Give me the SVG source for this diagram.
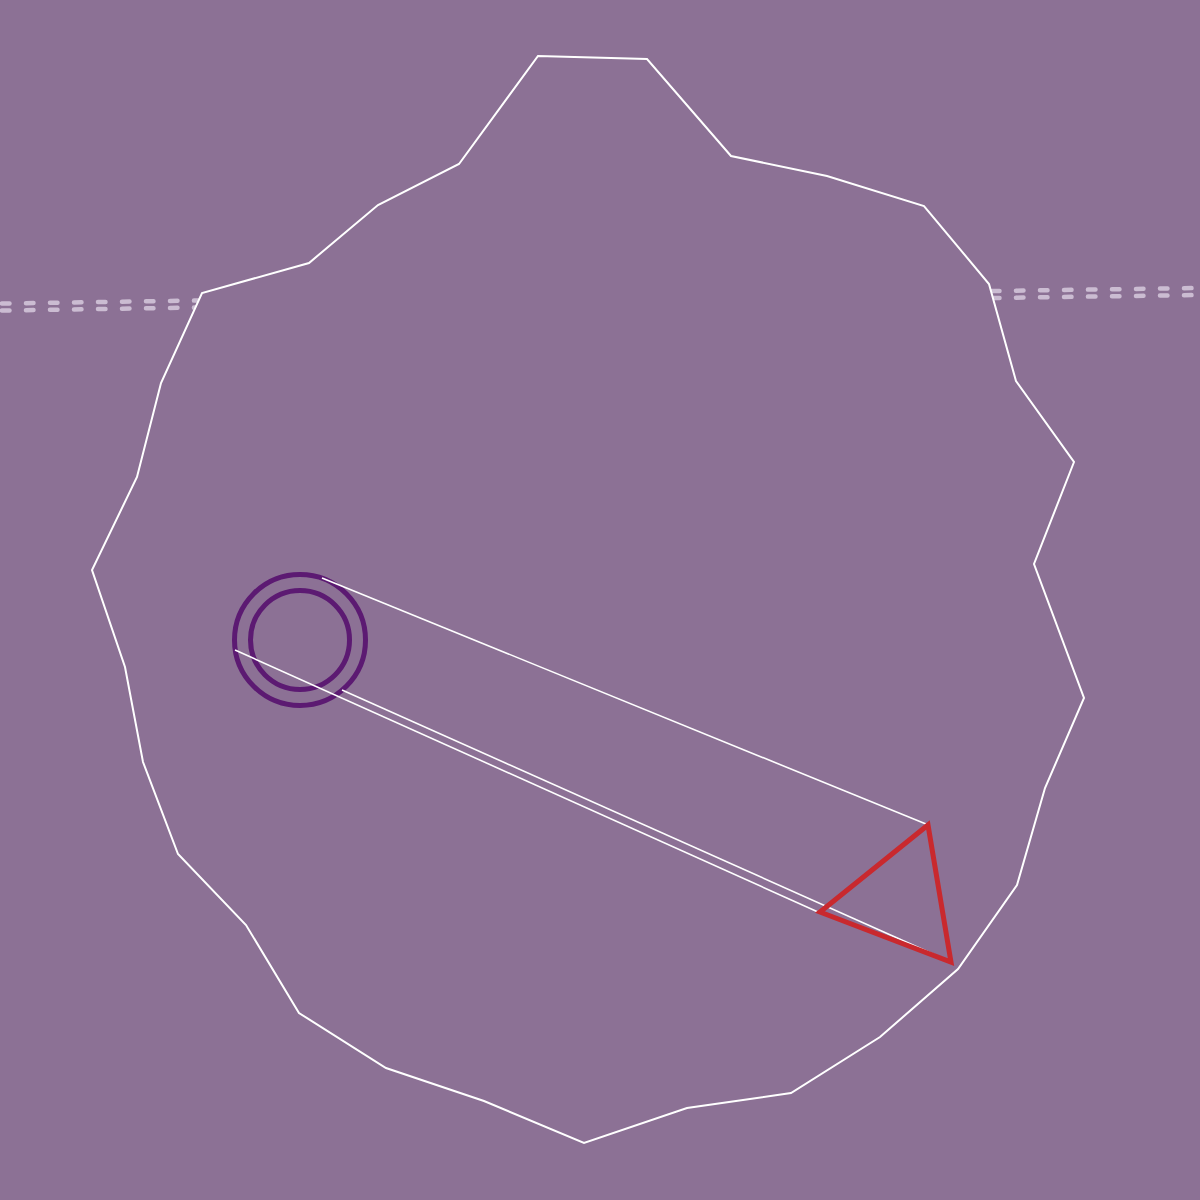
<svg xmlns="http://www.w3.org/2000/svg" width="1200" height="1200" viewBox="0 0 1200 1200">
<style>
.road{fill:none;stroke:#cbbcd2;stroke-width:4.5;stroke-linecap:round;stroke-dasharray:7.5 16.5}
.edge{fill:none;stroke:#ffffff;stroke-width:1.6}
.ring{fill:none;stroke:#5c1a72;stroke-width:5}
</style>
<rect x="0" y="0" width="1200" height="1200" fill="#8c7195"/>
<g id="roads">
<line class="road" x1="2" y1="303.5" x2="200" y2="300.5"/>
<line class="road" x1="2" y1="310.5" x2="200" y2="307.5"/>
<line class="road" x1="992" y1="291" x2="1200" y2="288"/>
<line class="road" x1="992" y1="298" x2="1200" y2="295"/>
</g>
<g id="region">
<polygon points="538,56 647,59 731,156 827,176 924,206 989,284 1016,381 1074,462 1034,564 1084,698 1045,788 1017,885 958,969 880,1037 791,1093 687,1108 584,1143 484,1101 386,1068 299,1013 246,925 178,854 143,762 125,667 92,570 137,477 161,383 202,293 309,263 378,205 459,164" fill="#8c7195" stroke="#ffffff" stroke-width="2" stroke-linejoin="miter"/>
</g>
<g id="node-circle">
<circle class="ring" cx="300" cy="640" r="65.5"/>
<circle class="ring" cx="300" cy="640" r="49.5"/>
</g>
<g id="connectors">
<line class="edge" x1="322" y1="578" x2="926" y2="824"/>
<line class="edge" x1="235" y1="650" x2="818" y2="912"/>
<line class="edge" x1="342" y1="690" x2="951" y2="962"/>
</g>
<g id="node-triangle">
<polygon points="928,825 951,962 820,912" fill="none" stroke="#c9292e" stroke-width="5" stroke-linejoin="miter"/>
</g>
</svg>
